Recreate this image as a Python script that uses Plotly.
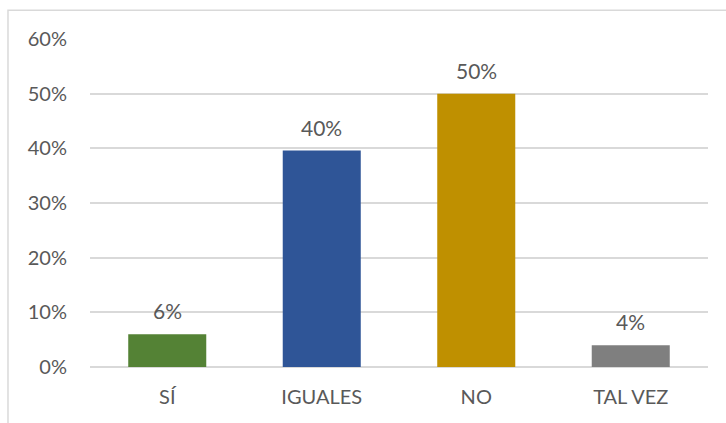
import plotly.graph_objects as go

# Survey answers and their shares
categories = ["SÍ", "IGUALES", "NO", "TAL VEZ"]
shares = [0.06, 0.396, 0.50, 0.04]
bar_colors = ["#548235", "#2F5597", "#BF9000", "#7F7F7F"]
tick_values = [0, 0.1, 0.2, 0.3, 0.4, 0.5, 0.6]
tick_labels = ["0%", "10%", "20%", "30%", "40%", "50%", "60%"]

font_family = "Lato, Open Sans, sans-serif"
text_color = "#595959"

fig = go.Figure(
    go.Bar(
        x=categories,
        y=shares,
        marker=dict(color=bar_colors, line=dict(width=0)),
        width=0.505,
        hoverinfo="x+y",
    )
)

# value labels sitting above each bar
for cat, val in zip(categories, shares):
    fig.add_annotation(
        x=cat,
        y=val,
        text=f"{val:.0%}",
        showarrow=False,
        yanchor="bottom",
        yshift=9,
        font=dict(family=font_family, size=21, color=text_color),
    )

fig.update_layout(
    width=726,
    height=423,
    margin=dict(l=90, r=18, t=39, b=56),
    paper_bgcolor="white",
    plot_bgcolor="white",
    showlegend=False,
    font=dict(family=font_family, color=text_color),
    xaxis=dict(
        showgrid=False,
        showline=False,
        ticks="",
        tickfont=dict(family=font_family, size=20, color=text_color),
        ticklabelstandoff=16,
    ),
    yaxis=dict(
        range=[0, 0.6],
        tickvals=tick_values,
        ticktext=tick_labels,
        showgrid=True,
        gridcolor="#d9d9d9",
        gridwidth=1.5,
        zeroline=True,
        zerolinecolor="#d9d9d9",
        zerolinewidth=1.5,
        showline=False,
        ticks="",
        tickfont=dict(family=font_family, size=20, color=text_color),
        ticklabelstandoff=22,
    ),
    shapes=[
        # chart frame (left and top edges visible)
        dict(
            type="rect",
            xref="paper",
            yref="paper",
            x0=-0.1327,
            x1=1.05,
            y0=-0.3,
            y1=1.088,
            line=dict(color="#d9d9d9", width=1.5),
            fillcolor="rgba(0,0,0,0)",
            layer="below",
        )
    ],
)

fig.write_html("out.html")
